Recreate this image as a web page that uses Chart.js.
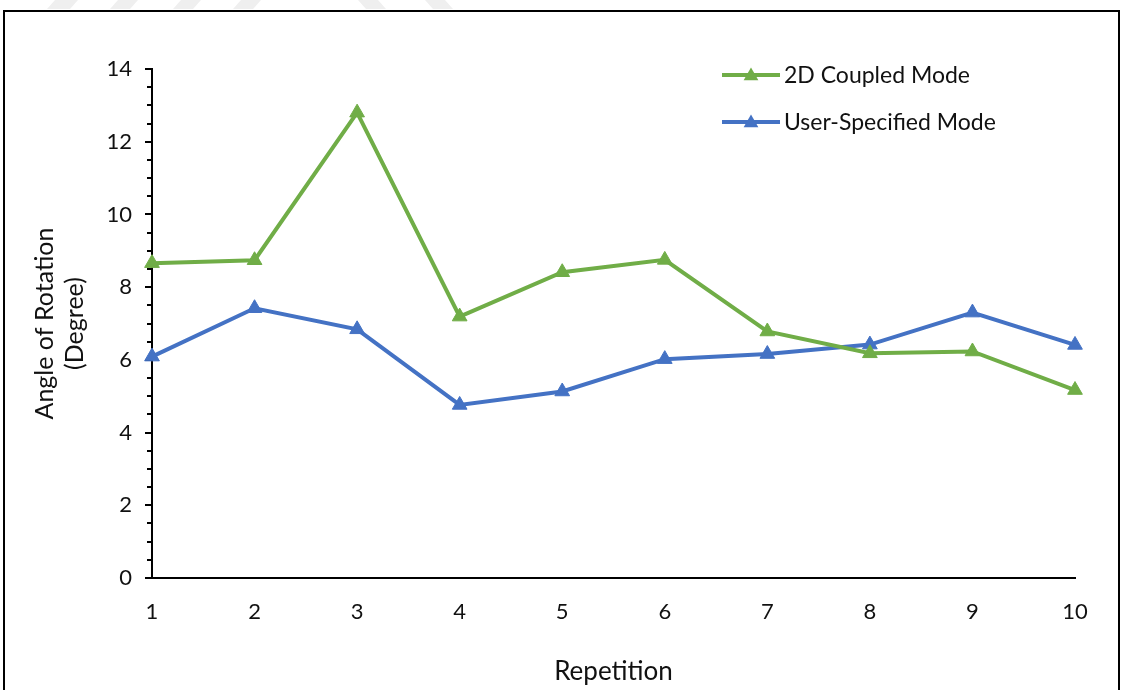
<!DOCTYPE html>
<html>
<head>
<meta charset="utf-8">
<script src="https://cdn.jsdelivr.net/npm/chart.js@4.4.1/dist/chart.umd.min.js"></script>
<style>
  html, body { margin: 0; padding: 0; background: #fff; }
  #wrap { position: relative; width: 1131px; height: 690px; overflow: hidden; }
  #frame { position: absolute; left: 3px; top: 10px; width: 1117px; height: 700px;
           border: 2px solid #000; box-sizing: border-box; pointer-events: none; }
  #stripes { position: absolute; left: 0; top: 0; }
  canvas { position: absolute; left: 0; top: 0; }
</style>
</head>
<body>
<div id="wrap">
  <svg id="stripes" width="1131" height="12">
    <g fill="#efefef">
      <polygon points="55,0 78,0 70,9 47,9"/>
      <polygon points="118,0 138,0 130,9 110,9"/>
      <polygon points="181,0 201,0 193,9 173,9"/>
      <polygon points="241,0 261,0 253,9 233,9"/>
      <polygon points="358,0 378,0 386,9 366,9"/>
      <polygon points="425,0 445,0 453,9 433,9"/>
    </g>
  </svg>
  <canvas id="c" width="1131" height="690"></canvas>
  <div id="frame"></div>
</div>
<script>
// Repetition numbers along the x axis
const repetitions = ['1', '2', '3', '4', '5', '6', '7', '8', '9', '10'];
// Angle of rotation (degrees) per repetition
const coupled2D = [8.66, 8.74, 12.80, 7.19, 8.41, 8.75, 6.78, 6.18, 6.23, 5.17];
const userSpecified = [6.09, 7.42, 6.84, 4.76, 5.13, 6.02, 6.16, 6.42, 7.30, 6.41];
const seriesNames = ['2D Coupled Mode', 'User-Specified Mode'];
const seriesColors = ['#70AD47', '#4472C4'];

const FONT = 'Lato, "Open Sans", sans-serif';
const TEXT = '#111111';

// Minor ticks on the value axis (every 0.5 between labelled steps)
const minorTicks = {
  id: 'minorTicks',
  afterDraw(chart) {
    const y = chart.scales.y;
    const ctx = chart.ctx;
    ctx.save();
    ctx.strokeStyle = '#000';
    ctx.lineWidth = 2;
    for (let v = y.min; v <= y.max; v += 0.5) {
      if (Math.abs(v % 2) < 1e-6) continue;
      const py = Math.round(y.getPixelForValue(v));
      ctx.beginPath();
      ctx.moveTo(y.right - 5, py);
      ctx.lineTo(y.right, py);
      ctx.stroke();
    }
    ctx.restore();
  }
};

// Legend drawn inside the plot area, top right
const innerLegend = {
  id: 'innerLegend',
  afterDraw(chart) {
    const ctx = chart.ctx;
    const x0 = 722, x1 = 780, rowY = [75, 122];
    ctx.save();
    chart.data.datasets.forEach((ds, i) => {
      const yy = rowY[i];
      ctx.strokeStyle = ds.borderColor;
      ctx.lineWidth = ds.borderWidth;
      ctx.beginPath();
      ctx.moveTo(x0, yy);
      ctx.lineTo(x1, yy);
      ctx.stroke();
      const r = ds.pointRadius, cx = (x0 + x1) / 2, cy = yy + 1;
      ctx.fillStyle = ds.pointBackgroundColor;
      ctx.beginPath();
      ctx.moveTo(cx, cy - r);
      ctx.lineTo(cx + r * 0.866, cy + r / 2);
      ctx.lineTo(cx - r * 0.866, cy + r / 2);
      ctx.closePath();
      ctx.fill();
      ctx.fillStyle = TEXT;
      ctx.font = '23px ' + FONT;
      ctx.textBaseline = 'middle';
      ctx.textAlign = 'left';
      ctx.fillText(ds.label, x1 + 4, yy + 1);
    });
    ctx.restore();
  }
};

function makeSeries(label, data, color) {
  return {
    label, data,
    borderColor: color,
    backgroundColor: color,
    borderWidth: 4,
    pointStyle: 'triangle',
    pointRadius: 8.5,
    pointHoverRadius: 8.5,
    pointBackgroundColor: color,
    pointBorderColor: color,
    pointBorderWidth: 1,
    tension: 0,
    fill: false
  };
}

new Chart(document.getElementById('c'), {
  type: 'line',
  data: {
    labels: repetitions,
    datasets: [
      makeSeries(seriesNames[0], coupled2D, seriesColors[0]),
      makeSeries(seriesNames[1], userSpecified, seriesColors[1])
    ]
  },
  plugins: [minorTicks, innerLegend],
  options: {
    responsive: false,
    animation: false,
    layout: { padding: { left: 0, right: 56, top: 69, bottom: 0 } },
    plugins: { legend: { display: false }, tooltip: { enabled: false } },
    scales: {
      x: {
        offset: false,
        grid: { display: false, drawTicks: false },
        border: { display: true, color: '#000', width: 2 },
        ticks: { color: TEXT, font: { family: FONT, size: 22 }, padding: 21, maxRotation: 0 },
        title: {
          display: true, text: 'Repetition', color: TEXT,
          font: { family: FONT, size: 26 }, padding: { top: 0, bottom: 3 }
        },
        afterFit(scale) { scale.height = 112; }
      },
      y: {
        min: 0, max: 14,
        ticks: { stepSize: 2, color: TEXT, font: { family: FONT, size: 22 }, padding: 13 },
        grid: { display: true, drawOnChartArea: false, color: '#000', lineWidth: 2, tickLength: 7 },
        border: { display: true, color: '#000', width: 2 },
        title: {
          display: true, text: ['Angle of Rotation', '(Degree)'], color: TEXT,
          font: { family: FONT, size: 25, lineHeight: 1.2 }, padding: { top: 30, bottom: 0 }
        },
        afterFit(scale) { scale.width = 152; }
      }
    }
  }
});
</script>
</body>
</html>
